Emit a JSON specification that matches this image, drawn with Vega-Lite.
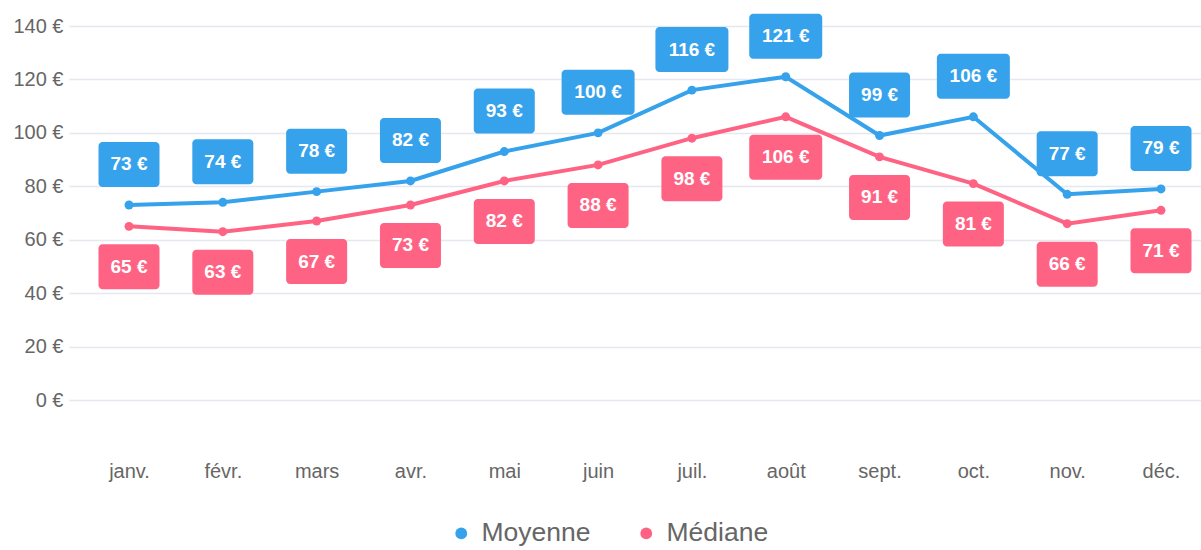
{
  "$schema": "https://vega.github.io/schema/vega-lite/v6.json",
  "autosize": "none",
  "width": 1132,
  "height": 374,
  "padding": {"left": 69, "top": 26, "right": 0, "bottom": 150},
  "background": "white",
  "config": {
    "view": {"stroke": null},
    "font": "Liberation Sans",
    "legend": {
      "title": null,
      "orient": "none",
      "direction": "horizontal",
      "legendX": 379,
      "legendY": 494,
      "padding": 0,
      "symbolType": "circle",
      "symbolSize": 140,
      "symbolStrokeWidth": 0,
      "labelFont": "Liberation Sans",
      "labelFontSize": 26.5,
      "labelColor": "#666666",
      "labelOffset": 7,
      "columnPadding": 42,
      "symbolOpacity": 1
    }
  },
  "data": {
    "values": [
      {"month": "janv.", "series": "Moyenne", "value": 73},
      {"month": "févr.", "series": "Moyenne", "value": 74},
      {"month": "mars", "series": "Moyenne", "value": 78},
      {"month": "avr.", "series": "Moyenne", "value": 82},
      {"month": "mai", "series": "Moyenne", "value": 93},
      {"month": "juin", "series": "Moyenne", "value": 100},
      {"month": "juil.", "series": "Moyenne", "value": 116},
      {"month": "août", "series": "Moyenne", "value": 121},
      {"month": "sept.", "series": "Moyenne", "value": 99},
      {"month": "oct.", "series": "Moyenne", "value": 106},
      {"month": "nov.", "series": "Moyenne", "value": 77},
      {"month": "déc.", "series": "Moyenne", "value": 79},
      {"month": "janv.", "series": "Médiane", "value": 65},
      {"month": "févr.", "series": "Médiane", "value": 63},
      {"month": "mars", "series": "Médiane", "value": 67},
      {"month": "avr.", "series": "Médiane", "value": 73},
      {"month": "mai", "series": "Médiane", "value": 82},
      {"month": "juin", "series": "Médiane", "value": 88},
      {"month": "juil.", "series": "Médiane", "value": 98},
      {"month": "août", "series": "Médiane", "value": 106},
      {"month": "sept.", "series": "Médiane", "value": 91},
      {"month": "oct.", "series": "Médiane", "value": 81},
      {"month": "nov.", "series": "Médiane", "value": 66},
      {"month": "déc.", "series": "Médiane", "value": 71}
    ]
  },
  "transform": [
    {"calculate": "datum.value + ' €'", "as": "label"}
  ],
  "encoding": {
    "x": {
      "field": "month",
      "type": "ordinal",
      "sort": ["janv.", "févr.", "mars", "avr.", "mai", "juin", "juil.", "août", "sept.", "oct.", "nov.", "déc."],
      "scale": {"type": "point", "padding": 0.533, "align": 0.6},
      "axis": {
        "title": null,
        "domain": false,
        "ticks": false,
        "grid": false,
        "labelAngle": 0,
        "labelFont": "Liberation Sans",
        "labelFontSize": 20,
        "labelColor": "#666666",
        "labelPadding": 61
      }
    },
    "y": {
      "field": "value",
      "type": "quantitative",
      "scale": {"domain": [0, 140], "nice": false, "zero": true},
      "axis": {
        "title": null,
        "values": [0, 20, 40, 60, 80, 100, 120, 140],
        "labelExpr": "datum.value + ' €'",
        "domain": false,
        "ticks": false,
        "grid": true,
        "gridColor": "#e6e8f0",
        "gridWidth": 1.5,
        "labelFont": "Liberation Sans",
        "labelFontSize": 20,
        "labelColor": "#666666",
        "labelPadding": 6
      }
    },
    "color": {
      "field": "series",
      "type": "nominal",
      "scale": {"domain": ["Moyenne", "Médiane"], "range": ["#36A2EB", "#FF6384"]}
    }
  },
  "layer": [
    {
      "mark": {"type": "line", "strokeWidth": 4}
    },
    {
      "mark": {"type": "circle", "size": 80, "opacity": 1}
    },
    {
      "transform": [{"filter": "datum.series == 'Moyenne' && datum.value < 100"}],
      "mark": {"type": "rect", "xOffset": -30.5, "x2Offset": 30.5, "yOffset": -63, "y2Offset": -18, "cornerRadius": 4},
      "encoding": {"x2": {"field": "month"}, "y2": {"field": "value"}}
    },
    {
      "transform": [{"filter": "datum.series == 'Moyenne' && datum.value >= 100"}],
      "mark": {"type": "rect", "xOffset": -36.5, "x2Offset": 36.5, "yOffset": -63, "y2Offset": -18, "cornerRadius": 4},
      "encoding": {"x2": {"field": "month"}, "y2": {"field": "value"}}
    },
    {
      "transform": [{"filter": "datum.series == 'Médiane' && datum.value < 100"}],
      "mark": {"type": "rect", "xOffset": -30.5, "x2Offset": 30.5, "yOffset": 18, "y2Offset": 63, "cornerRadius": 4},
      "encoding": {"x2": {"field": "month"}, "y2": {"field": "value"}}
    },
    {
      "transform": [{"filter": "datum.series == 'Médiane' && datum.value >= 100"}],
      "mark": {"type": "rect", "xOffset": -36.5, "x2Offset": 36.5, "yOffset": 18, "y2Offset": 63, "cornerRadius": 4},
      "encoding": {"x2": {"field": "month"}, "y2": {"field": "value"}}
    },
    {
      "transform": [{"filter": "datum.series == 'Moyenne'"}],
      "mark": {"type": "text", "font": "Liberation Sans", "fontWeight": "bold", "fontSize": 19, "baseline": "middle", "align": "center", "yOffset": -40.5},
      "encoding": {"text": {"field": "label"}, "color": {"value": "white"}}
    },
    {
      "transform": [{"filter": "datum.series == 'Médiane'"}],
      "mark": {"type": "text", "font": "Liberation Sans", "fontWeight": "bold", "fontSize": 19, "baseline": "middle", "align": "center", "yOffset": 40.5},
      "encoding": {"text": {"field": "label"}, "color": {"value": "white"}}
    }
  ]
}
